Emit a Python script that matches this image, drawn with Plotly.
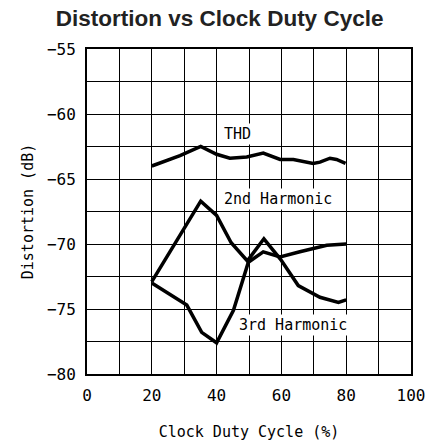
import plotly.graph_objects as go

thd_x = [20, 28.7, 35.1, 40, 44.1, 49.3, 54.4, 59.6, 63.7, 69.8, 71.9, 75, 77, 79.8]
thd_y = [-64.0, -63.2, -62.5, -63.1, -63.4, -63.3, -63.0, -63.5, -63.5, -63.8, -63.7, -63.4, -63.5, -63.8]

h2_x = [20, 35.1, 40, 44.5, 49.5, 54.6, 59.8, 65.2, 71.9, 77.6, 80]
h2_y = [-72.9, -66.7, -67.8, -69.9, -71.3, -69.6, -71.2, -73.2, -74.1, -74.5, -74.3]

h3_x = [20, 24.6, 30.8, 35.4, 40, 45.2, 49.8, 54.4, 59.6, 65.7, 74, 80]
h3_y = [-73.0, -73.7, -74.7, -76.8, -77.6, -75.1, -71.4, -70.6, -71.0, -70.6, -70.1, -70.0]

labels = ["THD", "2nd Harmonic", "3rd Harmonic"]
label_x = [41.7, 41.7, 46.3]
label_y = [-61.5, -66.5, -76.2]

mono = "DejaVu Sans Mono"

fig = go.Figure()
for xs, ys in [(thd_x, thd_y), (h2_x, h2_y), (h3_x, h3_y)]:
    fig.add_trace(go.Scatter(x=xs, y=ys, mode="lines",
                             line=dict(color="black", width=3.5),
                             showlegend=False, hoverinfo="skip"))

for t, x, y in zip(labels, label_x, label_y):
    fig.add_annotation(x=x, y=y, text=t, showarrow=False, xanchor="left",
                       yanchor="middle", bgcolor="white", borderpad=1,
                       font=dict(family=mono, size=15, color="black"))

fig.update_layout(
    width=429, height=447,
    margin=dict(l=87, r=18, t=49, b=73, autoexpand=False),
    paper_bgcolor="white", plot_bgcolor="white",
    title=dict(text="<b>Distortion vs Clock Duty Cycle</b>", x=0.512, xanchor="center",
               y=1 - 18/447, yanchor="middle",
               font=dict(family="Liberation Sans", size=22.5, color="#222222")),
    font=dict(family=mono, size=16, color="black"),
)
fig.update_xaxes(range=[0, 100], tickvals=[0, 20, 40, 60, 80, 100],
                 automargin=False,
                 showgrid=True, gridcolor="black", gridwidth=1,
                 minor=dict(tickvals=[10, 30, 50, 70, 90], showgrid=True,
                            gridcolor="black", gridwidth=1),
                 showline=True, linecolor="black", linewidth=2, mirror=True,
                 ticks="", zeroline=False, ticklabelstandoff=6,
                 title=dict(text="Clock Duty Cycle (%)", standoff=22,
                            font=dict(family=mono, size=15)))
fig.update_yaxes(range=[-80, -55], tickvals=[-80, -75, -70, -65, -60, -55],
                 ticktext=["−80", "−75", "−70", "−65", "−60", "−55"],
                 automargin=False,
                 showgrid=True, gridcolor="black", gridwidth=1,
                 minor=dict(tickvals=[-77.5, -72.5, -67.5, -62.5, -57.5], showgrid=True,
                            gridcolor="black", gridwidth=1),
                 showline=True, linecolor="black", linewidth=2, mirror=True,
                 ticks="", zeroline=False, ticklabelstandoff=6,
                 title=dict(text="Distortion (dB)", standoff=10,
                            font=dict(family=mono, size=15)))

fig.write_html("out.html", config={"displayModeBar": False},
               post_script="document.body.style.margin='0';document.body.style.overflow='hidden';")
